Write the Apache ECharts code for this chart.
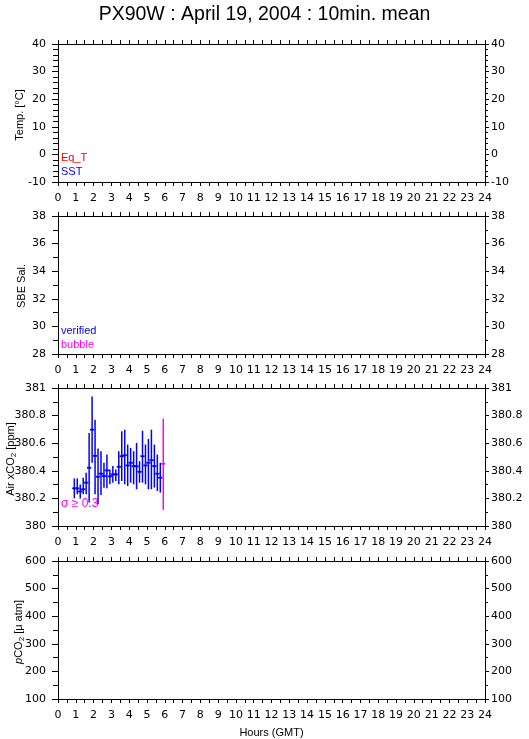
<!DOCTYPE html>
<html><head><meta charset="utf-8">
<script src="https://cdn.jsdelivr.net/npm/echarts@6/dist/echarts.min.js"></script>
<style>html,body{margin:0;padding:0;background:#fff}#c{width:529px;height:739px}</style>
</head><body><div id="c"></div>
<script>
// ---- data ----
const hourTicks = [0,1,2,3,4,5,6,7,8,9,10,11,12,13,14,15,16,17,18,19,20,21,22,23,24];
const airTimes = [0.917,1.083,1.25,1.417,1.583,1.75,1.917,2.083,2.25,2.417,2.583,2.75,2.917,3.083,3.25,3.417,3.583,3.75,3.917,4.083,4.25,4.417,4.583,4.75,4.917,5.083,5.25,5.417,5.583,5.75];
const airMean = [380.273,380.273,380.25,380.266,380.314,380.422,380.698,380.508,380.357,380.379,380.362,380.403,380.36,380.374,380.374,380.429,380.506,380.513,380.439,380.458,380.434,380.432,380.393,380.506,380.439,380.458,380.477,380.434,380.379,380.35];
const airLow = [380.20,380.23,380.20,380.23,380.23,380.17,380.458,380.23,380.158,380.225,380.278,380.273,380.302,380.314,380.326,380.302,380.326,380.302,380.29,380.314,380.302,380.266,380.314,380.314,380.302,380.266,380.266,380.278,380.254,380.242];
const airHigh = [380.345,380.345,380.30,380.35,380.386,380.674,380.938,380.77,380.561,380.542,380.458,380.518,380.41,380.434,380.41,380.542,380.686,380.698,380.59,380.566,380.542,380.602,380.47,380.691,380.59,380.631,380.698,380.59,380.518,380.458];
const sigTimes = [5.917];
const sigMean = [380.451];
const sigLow = [380.117];
const sigHigh = [380.777];
const panelNames = ['Temp. [°C]','SBE Sal.','Air xCO{sub|2} [ppm]','{it|p}CO{sub|2} [μ atm]'];
const yMin = [-10,28,380,100];
const yMax = [40,38,381,600];
const yStep = [10,2,0.2,100];
const yMinorSplit = [5,2,2,2];

// ---- chart ----
const FONT = 'Liberation Sans, Arial, sans-serif';
const NUMFONT = 'DejaVu Sans, sans-serif';
const tops = [44,216,388,561];
const H = 138;
const LEFT = 58, RIGHT = 44;
const grids = [], xAxes = [], yAxes = [], series = [];
const ax = {lineStyle:{color:'#000',width:1}};
for (let i=0;i<4;i++){
  grids.push({left:LEFT, right:RIGHT, top:tops[i], height:H, outerBoundsMode:'none', containLabel:false});
  xAxes.push({type:'value', gridIndex:i, position:'bottom', min:0, max:24, interval:0.5,
    axisLine:{show:true,onZero:false,...ax}, axisTick:{show:true,length:4,lineStyle:{color:'#000'}},
    axisLabel:{show:true, margin:11, color:'#000', fontFamily:NUMFONT, fontSize:11, hideOverlap:false,
      formatter:v=>hourTicks.includes(v)?String(v):''},
    splitLine:{show:false},
    name: i===3?'Hours (GMT)':'', nameLocation:'middle', nameGap:28, nameMoveOverlap:false,
    nameTextStyle:{color:'#000',fontFamily:FONT,fontSize:11}});
  xAxes.push({type:'value', gridIndex:i, position:'top', min:0, max:24, interval:0.5,
    axisLine:{show:true,onZero:false,...ax}, axisTick:{show:true,length:4,lineStyle:{color:'#000'}},
    axisLabel:{show:false}, splitLine:{show:false}});
  for (const pos of ['left','right']){
    const isL = pos==='left';
    yAxes.push({type:'value', gridIndex:i, position:pos, min:yMin[i], max:yMax[i], interval:yStep[i],
      axisLine:{show:true,onZero:false,...ax},
      axisTick:{show:true,length:isL?6:4,lineStyle:{color:'#000'}},
      minorTick:{show:true,splitNumber:yMinorSplit[i],length:isL?5:3,lineStyle:{color:'#000'}},
      axisLabel:{show:true,margin:isL?12:6,color:'#000',fontFamily:NUMFONT,fontSize:11,hideOverlap:false},
      splitLine:{show:false}, minorSplitLine:{show:false}});
  }
}
function errSeries(times, mean, low, high, color){
  const data = times.map((t,k)=>[t,mean[k],low[k],high[k]]);
  return {type:'custom', xAxisIndex:4, yAxisIndex:4, data, clip:false,
    encode:{x:0,y:[1,2,3]},
    renderItem:(params,api)=>{
      const t=api.value(0), m=api.value(1), lo=api.value(2), hi=api.value(3);
      const pLo=api.coord([t,lo]), pHi=api.coord([t,hi]);
      const pA=api.coord([t-0.12,m]), pB=api.coord([t+0.12,m]);
      return {type:'group', children:[
        {type:'line', shape:{x1:pLo[0],y1:pLo[1],x2:pHi[0],y2:pHi[1]}, style:{stroke:color,lineWidth:1.5}},
        {type:'line', shape:{x1:pA[0],y1:pA[1],x2:pB[0],y2:pB[1]}, style:{stroke:color,lineWidth:1.8}}
      ]};
    }};
}
series.push(errSeries(airTimes, airMean, airLow, airHigh, '#0000ff'));
series.push(errSeries(sigTimes, sigMean, sigLow, sigHigh, '#ff00ff'));

const txt = (x,y,text,color,size)=>({type:'text', left:x, top:y, style:{text, fill:color, font:(size||11)+'px '+FONT}});
const nameCenters = [115,286,459,632];
const nameX = [20,22,11,19];
const names = panelNames.map((n,i)=>({type:'text', x:nameX[i], y:nameCenters[i], rotation:Math.PI/2,
  style:{text:n, fill:'#000', font:'11px '+FONT, align:'center', verticalAlign:'middle',
    rich:{sub:{fontSize:8,fontFamily:FONT,fill:'#000',padding:[6,0,0,0]},
          it:{fontStyle:'italic',fontSize:11,fontFamily:FONT,fill:'#000'}}}}));
const chart = echarts.init(document.getElementById('c'), null, {renderer:'canvas'});
chart.setOption({
  animation:false,
  backgroundColor:'#fff',
  title:{text:'PX90W : April 19, 2004 : 10min. mean', left:'center', top:0,
    textStyle:{color:'#000',fontFamily:FONT,fontSize:19.5,fontWeight:'normal'}},
  grid:grids, xAxis:xAxes, yAxis:yAxes, series,
  graphic:[
    txt(61,152,'Eq_T','#ff0000'),
    txt(61,166,'SST','#0000ff'),
    txt(61,325,'verified','#0000ff'),
    txt(61,339,'bubble','#ff00ff'),
    txt(61,498,'σ ≥ 0.3','#ff00ff',12),
    ...names
  ]
});
</script></body></html>
